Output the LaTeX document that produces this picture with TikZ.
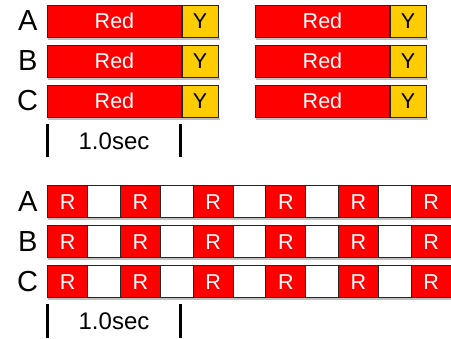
\documentclass[tikz,border=0pt]{standalone}
\usepackage{fontspec}
\setmainfont{Liberation Sans}
\definecolor{redc}{HTML}{FF0000}
\definecolor{yelc}{HTML}{FFCC00}
\begin{document}
\begin{tikzpicture}[x=1pt,y=-1pt,
  cell/.style={draw=black!85, line width=0.9pt, minimum height=32pt, inner sep=0pt, anchor=north west, font=\fontsize{21.5}{21.5}\selectfont},
  redcell/.style={cell, fill=redc, text=white},
  ycell/.style={cell, fill=yelc, text=black},
  blank/.style={cell, fill=white},
  rowlabel/.style={font=\fontsize{29}{29}\selectfont, anchor=center, inner sep=0pt},
  secl/.style={font=\fontsize{24}{24}\selectfont, inner sep=0pt},
  tick/.style={line width=2.6pt, black},
  shadowline/.style={draw=black!25, line width=1.6pt}
]
\useasboundingbox (0,0) rectangle (451,339);
% top section
\foreach \i/\L in {0/A,1/B,2/C}{
  \pgfmathsetmacro{\yt}{4.7+40*\i}
  \node[rowlabel] (tl\L) at (27.7,\yt+16) {\L};
  \node[redcell, minimum width=133.4pt] (trl\L) at (47.3,\yt) {Red};
  \node[ycell, minimum width=36pt] (tyl\L) at (trl\L.north east) {Y};
  \node[redcell, minimum width=133.4pt] (trr\L) at (255.3,\yt) {Red};
  \node[ycell, minimum width=36pt] (tyr\L) at (trr\L.north east) {Y};
  \draw[shadowline] ([shift={(1,1.6)}]trl\L.south west) -- ([shift={(1,1.6)}]tyl\L.south east);
  \draw[shadowline] ([shift={(1,1.6)}]trr\L.south west) -- ([shift={(1,1.6)}]tyr\L.south east);
}
\coordinate (ta1) at (47.3,124);
\coordinate (tb1) at (47.3,156.7);
\coordinate (ta2) at (180.7,124);
\coordinate (tb2) at (180.7,156.7);
\draw[tick] (ta1) -- (tb1);
\draw[tick] (ta2) -- (tb2);
\node[secl] (tsec) at (114,141.7) {1.0sec};
% bottom section
\foreach \i/\L in {0/A,1/B,2/C}{
  \pgfmathsetmacro{\yt}{185.3+40*\i}
  \node[rowlabel] (bl\L) at (27.7,\yt+16) {\L};
  \draw[shadowline] (48.3,\yt+33.6) -- (451,\yt+33.6);
  \node[blank, minimum width=403.4pt] (brow\L) at (47.3,\yt) {};
  \foreach \k in {0,...,5}{
    \node[redcell, minimum width=40pt] (bR\L\k) at (47.3+72.68*\k,\yt) {R};
  }
}
\coordinate (ba1) at (47.3,304.3);
\coordinate (bb1) at (47.3,338.3);
\coordinate (ba2) at (180.7,304.3);
\coordinate (bb2) at (180.7,338.3);
\draw[tick] (ba1) -- (bb1);
\draw[tick] (ba2) -- (bb2);
\node[secl] (bsec) at (114,321.7) {1.0sec};
\end{tikzpicture}
\end{document}
